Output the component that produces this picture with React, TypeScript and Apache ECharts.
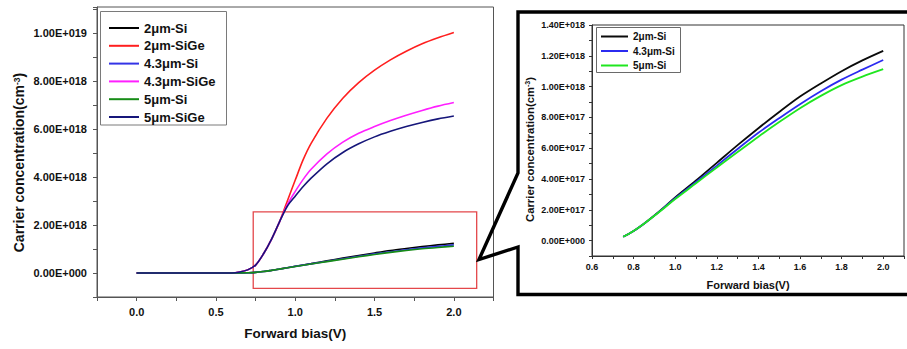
import React, { useEffect, useRef } from 'react';
import * as echarts from 'echarts';

// ---------- data (carrier concentration in units of 1E+018 cm^-3) ----------
const siGeBias = [0, 0.1, 0.2, 0.3, 0.4, 0.5, 0.6, 0.65, 0.7, 0.75, 0.8, 0.85, 0.9, 0.95, 1.0, 1.05, 1.1, 1.2, 1.3, 1.4, 1.5, 1.6, 1.7, 1.8, 1.9, 2.0];
const siGe2um = [0, 0, 0, 0, 0, 0, 0, 0.04, 0.13, 0.33, 0.8, 1.4, 2.12, 3.0, 3.87, 4.72, 5.4, 6.45, 7.28, 7.93, 8.45, 8.88, 9.24, 9.55, 9.8, 10.02];
const siGe43um = [0, 0, 0, 0, 0, 0, 0, 0.04, 0.13, 0.33, 0.8, 1.4, 2.12, 2.85, 3.4, 3.9, 4.32, 4.96, 5.45, 5.82, 6.1, 6.35, 6.57, 6.77, 6.95, 7.1];
const siGe5um = [0, 0, 0, 0, 0, 0, 0, 0.04, 0.13, 0.33, 0.8, 1.4, 2.12, 2.78, 3.2, 3.6, 3.95, 4.55, 5.02, 5.38, 5.67, 5.9, 6.1, 6.27, 6.42, 6.54];

const siBias = [0, 0.1, 0.2, 0.3, 0.4, 0.5, 0.6, 0.65, 0.7, 0.75, 0.8, 0.85, 0.9, 0.95, 1.0, 1.1, 1.2, 1.3, 1.4, 1.5, 1.6, 1.7, 1.8, 1.9, 2.0];
const si2um = [0, 0, 0, 0, 0, 0, 0, 0.003, 0.01, 0.025, 0.063, 0.11, 0.163, 0.22, 0.28, 0.39, 0.505, 0.62, 0.73, 0.835, 0.935, 1.02, 1.1, 1.17, 1.232];
const si43um = [0, 0, 0, 0, 0, 0, 0, 0.003, 0.01, 0.025, 0.063, 0.11, 0.162, 0.218, 0.275, 0.38, 0.487, 0.595, 0.7, 0.795, 0.886, 0.97, 1.045, 1.11, 1.173];
const si5um = [0, 0, 0, 0, 0, 0, 0, 0.003, 0.01, 0.025, 0.063, 0.11, 0.161, 0.215, 0.27, 0.372, 0.475, 0.575, 0.675, 0.77, 0.86, 0.94, 1.01, 1.065, 1.113];

const insetStartBias = 0.75;
const zoomBoxX = [0.735, 2.144];
const zoomBoxY = [-0.64, 2.55];

const mainNames = ['2μm-Si', '2μm-SiGe', '4.3μm-Si', '4.3μm-SiGe', '5μm-Si', '5μm-SiGe'];
const insetNames = ['2μm-Si', '4.3μm-Si', '5μm-Si'];
const yAxisTitle = 'Carrier concentration(cm{sup|-3})';
const xAxisTitle = 'Forward bias(V)';

const FONT = "'Liberation Sans', Arial, Helvetica, sans-serif";

const mainColors: Record<string, string> = {
  '2μm-Si': '#000000',
  '2μm-SiGe': '#ff1f1f',
  '4.3μm-Si': '#3434e6',
  '4.3μm-SiGe': '#ff1fff',
  '5μm-Si': '#178c17',
  '5μm-SiGe': '#16167a',
};
const insetColors: Record<string, string> = {
  '2μm-Si': '#0a0a0a',
  '4.3μm-Si': '#2b2bf0',
  '5μm-Si': '#1fe61f',
};

const pairs = (xs: number[], ys: number[]) => xs.map((x, i) => [x, ys[i]]);

function sci(v: number): string {
  if (Math.abs(v) < 1e-9) return '0.00E+000';
  const e = Math.floor(Math.log10(Math.abs(v)) + 1e-9);
  const m = v / Math.pow(10, e);
  return m.toFixed(2) + 'E+' + String(e).padStart(3, '0');
}

export default function App() {
  const ref = useRef<HTMLDivElement>(null);
  useEffect(() => {
    if (!ref.current) return;
    const chart = echarts.init(ref.current, null, { renderer: 'svg' });

    const mainData: Record<string, number[][]> = {
      '2μm-Si': pairs(siBias, si2um),
      '2μm-SiGe': pairs(siGeBias, siGe2um),
      '4.3μm-Si': pairs(siBias, si43um),
      '4.3μm-SiGe': pairs(siGeBias, siGe43um),
      '5μm-Si': pairs(siBias, si5um),
      '5μm-SiGe': pairs(siGeBias, siGe5um),
    };
    const insetData: Record<string, number[][]> = {
      '2μm-Si': pairs(siBias, si2um).filter((p) => p[0] >= insetStartBias),
      '4.3μm-Si': pairs(siBias, si43um).filter((p) => p[0] >= insetStartBias),
      '5μm-Si': pairs(siBias, si5um).filter((p) => p[0] >= insetStartBias),
    };

    const mainSeries = mainNames.map((n, i) => ({
      name: n,
      type: 'line',
      xAxisIndex: 0,
      yAxisIndex: 0,
      data: mainData[n],
      symbol: 'none',
      smooth: 0.3,
      lineStyle: { color: mainColors[n], width: 1.6 },
      itemStyle: { color: mainColors[n] },
      z: 3,
      ...(i === 0
        ? {
            markArea: {
              silent: true,
              itemStyle: { color: 'rgba(0,0,0,0)', borderColor: '#e4474a', borderWidth: 1.3 },
              data: [[{ coord: [zoomBoxX[0], zoomBoxY[1]] }, { coord: [zoomBoxX[1], zoomBoxY[0]] }]],
            },
          }
        : {}),
    }));

    const insetSeries = insetNames.map((n) => ({
      name: n,
      type: 'line',
      xAxisIndex: 1,
      yAxisIndex: 1,
      data: insetData[n],
      symbol: 'none',
      smooth: 0.3,
      lineStyle: { color: insetColors[n], width: 1.8 },
      itemStyle: { color: insetColors[n] },
      z: 3,
    }));

    const yTitle = (x: number, y: number, size: number, supSize: number) => ({
      type: 'text',
      x,
      y,
      rotation: Math.PI / 2,
      z: 5,
      style: {
        text: yAxisTitle,
        x: 0,
        y: 0,
        align: 'center',
        verticalAlign: 'middle',
        fontSize: size,
        fontWeight: 'bold',
        fontFamily: FONT,
        fill: '#111',
        rich: { sup: { fontSize: supSize, fontWeight: 'bold', fontFamily: FONT, fill: '#111', verticalAlign: 'top' } },
      },
    });

    const option = {
      animation: false,
      backgroundColor: '#ffffff',
      textStyle: { fontFamily: FONT },
      grid: [
        { left: 97, top: 7, width: 396.5, height: 290, show: true, borderColor: '#555', borderWidth: 1, backgroundColor: 'rgba(0,0,0,0)' },
        { left: 592, top: 25, width: 315, height: 231, show: true, borderColor: '#333', borderWidth: 1, backgroundColor: 'rgba(0,0,0,0)' },
      ],
      xAxis: [
        {
          type: 'value',
          gridIndex: 0,
          min: -0.25,
          max: 2.25,
          interval: 0.25,
          name: xAxisTitle,
          nameLocation: 'middle',
          nameGap: 29,
          nameTextStyle: { fontSize: 13.5, fontWeight: 'bold', color: '#111', fontFamily: FONT },
          axisLine: { show: true, onZero: false, lineStyle: { color: '#555', width: 1 } },
          axisTick: { show: true, inside: false, length: 4, lineStyle: { color: '#555' } },
          splitLine: { show: false },
          axisLabel: {
            interval: 0,
            margin: 9,
            fontSize: 11,
            fontWeight: 'bold',
            color: '#111',
            fontFamily: FONT,
            formatter: (v: number) => {
              const k = v * 2;
              return Math.abs(k - Math.round(k)) > 1e-6 ? '' : v.toFixed(1);
            },
          },
        },
        {
          type: 'value',
          gridIndex: 1,
          min: 0.6,
          max: 2.1,
          interval: 0.1,
          name: xAxisTitle,
          nameLocation: 'middle',
          nameGap: 23,
          nameTextStyle: { fontSize: 11, fontWeight: 'bold', color: '#111', fontFamily: FONT },
          axisLine: { show: true, onZero: false, lineStyle: { color: '#333', width: 1 } },
          axisTick: { show: true, inside: false, length: 3, lineStyle: { color: '#333' } },
          splitLine: { show: false },
          axisLabel: {
            interval: 0,
            margin: 6,
            fontSize: 9,
            fontWeight: 'bold',
            color: '#111',
            fontFamily: FONT,
            formatter: (v: number) => {
              const k = Math.round(v * 10);
              if (Math.abs(v * 10 - k) > 1e-6 || k % 2 !== 0 || k > 20) return '';
              return v.toFixed(1);
            },
          },
        },
      ],
      yAxis: [
        {
          type: 'value',
          gridIndex: 0,
          min: -1,
          max: 11.08,
          interval: 1,
          axisLine: { show: true, onZero: false, lineStyle: { color: '#555', width: 1 } },
          axisTick: { show: true, inside: false, length: 4, lineStyle: { color: '#555' } },
          splitLine: { show: false },
          axisLabel: {
            interval: 0,
            margin: 10,
            fontSize: 11,
            fontWeight: 'bold',
            color: '#111',
            fontFamily: FONT,
            formatter: (v: number) => {
              const r = Math.round(v);
              if (Math.abs(v - r) > 1e-6 || r < 0 || r % 2 !== 0) return '';
              return sci(r * 1e18);
            },
          },
        },
        {
          type: 'value',
          gridIndex: 1,
          min: -0.1,
          max: 1.4,
          interval: 0.1,
          axisLine: { show: true, onZero: false, lineStyle: { color: '#333', width: 1 } },
          axisTick: { show: true, inside: false, length: 3, lineStyle: { color: '#333' } },
          splitLine: { show: false },
          axisLabel: {
            interval: 0,
            margin: 7,
            fontSize: 9,
            fontWeight: 'bold',
            color: '#111',
            fontFamily: FONT,
            formatter: (v: number) => {
              const r = Math.round(v * 10);
              if (Math.abs(v * 10 - r) > 1e-6 || r < 0 || r % 2 !== 0) return '';
              return sci(r * 1e17);
            },
          },
        },
      ],
      legend: [
        {
          orient: 'vertical',
          left: 109,
          top: 21,
          padding: 0,
          icon: 'rect',
          itemWidth: 30,
          itemHeight: 2,
          itemGap: 3.8,
          selectedMode: false,
          textStyle: { fontSize: 13, lineHeight: 14, fontWeight: 'bold', color: '#111', fontFamily: FONT },
          data: mainNames.map((n) => ({ name: n, itemStyle: { color: mainColors[n] } })),
        },
        {
          orient: 'vertical',
          left: 601,
          top: 30.5,
          padding: 0,
          icon: 'rect',
          itemWidth: 27,
          itemHeight: 2,
          itemGap: 2.5,
          selectedMode: false,
          textStyle: { fontSize: 10, lineHeight: 12, fontWeight: 'bold', color: '#111', fontFamily: FONT },
          data: insetNames.map((n) => ({ name: n, itemStyle: { color: insetColors[n] } })),
        },
      ],
      graphic: [
        {
          type: 'rect',
          z: 1,
          shape: { x: 100.5, y: 11.5, width: 126, height: 113.5 },
          style: { fill: '#ffffff', stroke: '#7a7a7a', lineWidth: 1 },
        },
        {
          type: 'rect',
          z: 1,
          shape: { x: 596.5, y: 27.5, width: 84, height: 45 },
          style: { fill: '#ffffff', stroke: '#6a6a6a', lineWidth: 1 },
        },
        {
          type: 'polyline',
          z: 10,
          shape: {
            points: [
              [912, 12],
              [518, 12],
              [518, 173],
              [479, 259.5],
              [518, 247],
              [518, 294.5],
              [912, 294.5],
            ],
          },
          style: { stroke: '#000', lineWidth: 3.4, fill: 'none', lineJoin: 'miter' },
        },
        yTitle(19, 162.5, 14, 8.5),
        yTitle(529.5, 149.5, 11.3, 7),
      ],
      series: [...mainSeries, ...insetSeries],
    };

    chart.setOption(option as any);
    return () => chart.dispose();
  }, []);

  return <div ref={ref} style={{ position: 'absolute', left: 0, top: 0, width: 907, height: 349 }} />;
}
